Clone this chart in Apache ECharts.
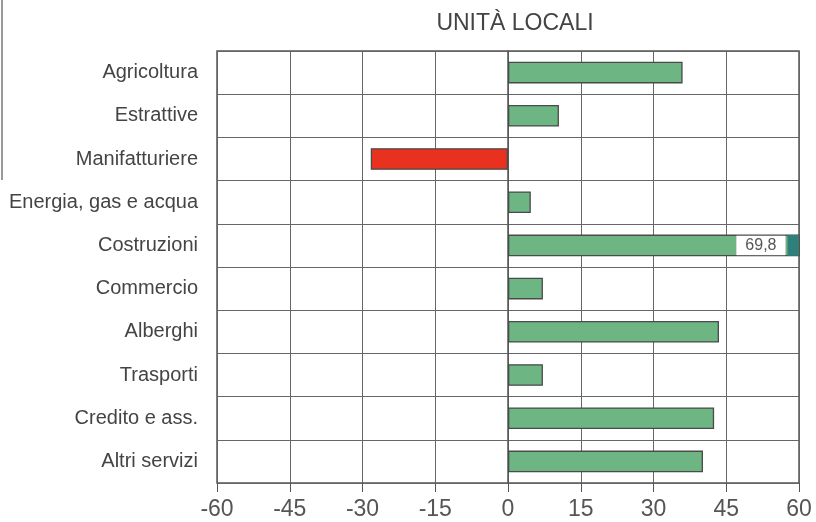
<!DOCTYPE html>
<html>
<head>
<meta charset="utf-8">
<script src="https://cdn.jsdelivr.net/npm/echarts@6/dist/echarts.min.js"></script>
<style>
  html, body { margin: 0; padding: 0; background: #fff; }
  #chart { width: 816px; height: 522px; }
</style>
</head>
<body>
<div id="chart"></div>
<script>
const categories = [
  "Agricoltura",
  "Estrattive",
  "Manifatturiere",
  "Energia, gas e acqua",
  "Costruzioni",
  "Commercio",
  "Alberghi",
  "Trasporti",
  "Credito e ass.",
  "Altri servizi",
];
const values = [36, 10.5, -28.3, 4.7, 69.8, 7.2, 43.5, 7.2, 42.5, 40.2];
const xTicks = [-60, -45, -30, -15, 0, 15, 30, 45, 60];
const xMin = -60;
const xMax = 60;

const font = "'Liberation Sans', Arial, sans-serif";
const chart = echarts.init(document.getElementById("chart"));

// the one bar that runs off the axis gets its value written at the edge
const overflowIdx = values.findIndex((v) => v > xMax);

chart.setOption({
  animation: false,
  title: {
    text: "UNITÀ LOCALI",
    left: 510,
    textAlign: "center",
    top: 7,
    textStyle: { fontFamily: font, fontSize: 23, fontWeight: "normal", color: "#444" },
  },
  grid: { left: 217, right: 17, top: 51, bottom: 39, outerBoundsMode: "none" },
  xAxis: {
    type: "value",
    min: xMin,
    max: xMax,
    interval: 15,
    axisLine: { show: false },
    axisTick: { show: true, length: 9, lineStyle: { color: "#555", width: 1 } },
    axisLabel: {
      fontFamily: font,
      fontSize: 23,
      color: "#555",
      margin: 15,
      formatter: (v) => (xTicks.includes(v) ? String(v) : ""),
    },
    splitLine: { lineStyle: { color: "#666", width: 1 } },
  },
  yAxis: {
    type: "category",
    data: categories,
    inverse: true,
    axisLine: { show: true, lineStyle: { color: "#555", width: 1.5 } },
    axisTick: { show: false },
    axisLabel: { fontFamily: font, fontSize: 20, color: "#444", margin: 19 },
    splitLine: { show: true, lineStyle: { color: "#666", width: 1 } },
  },
  series: [
    {
      type: "bar",
      barWidth: "50%",
      clip: true,
      data: values.map((v) => ({
        value: v,
        itemStyle: { color: v < 0 ? "#e8321f" : "#6db583" },
      })),
      itemStyle: { borderColor: "#4a4a4a", borderWidth: 1.3 },
      markPoint: {
        symbol: "rect",
        symbolSize: [11, 21],
        symbolOffset: [-6, 0],
        itemStyle: { color: "#2f7f7a", borderWidth: 0 },
        label: {
          show: true,
          position: "left",
          distance: 2,
          backgroundColor: "#fff",
          borderColor: "#999",
          borderWidth: 0.5,
          padding: [2, 9, 1, 9],
          fontFamily: font,
          fontSize: 16,
          color: "#555",
          formatter: () => String(values[overflowIdx]).replace(".", ","),
        },
        data: [{ coord: [xMax, overflowIdx] }],
      },
    },
  ],
  graphic: [
    {
      type: "rect",
      shape: { x: 217, y: 51, width: 582, height: 432 },
      style: { fill: "none", stroke: "#555", lineWidth: 1.5 },
      silent: true,
    },
    {
      type: "line",
      shape: { x1: 2, y1: 0, x2: 2, y2: 180 },
      style: { stroke: "#777", lineWidth: 1.5 },
      silent: true,
    },
  ],
});
</script>
</body>
</html>
